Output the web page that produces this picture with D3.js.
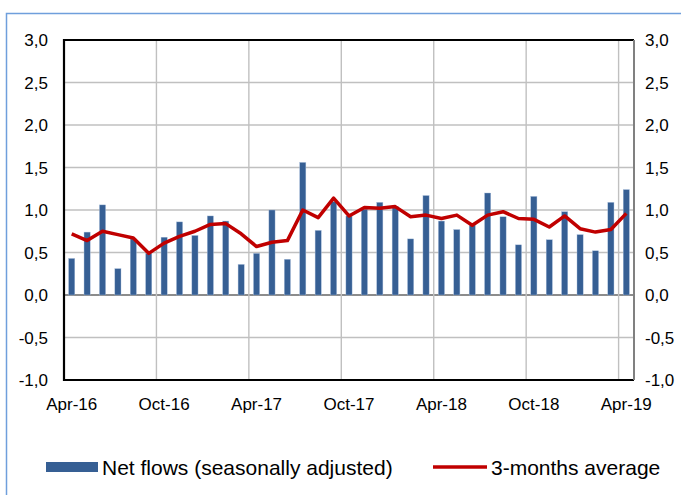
<!DOCTYPE html>
<html><head><meta charset="utf-8">
<script src="https://cdn.jsdelivr.net/npm/d3@7"></script>
<style>body{margin:0;background:#fff}svg{display:block}text{font-family:"Liberation Sans",Arial,sans-serif;fill:#000}</style>
</head><body><svg id="c" width="681" height="495"></svg>
<script>
const months = ["Apr-16","May-16","Jun-16","Jul-16","Aug-16","Sep-16","Oct-16","Nov-16","Dec-16","Jan-17","Feb-17","Mar-17",
"Apr-17","May-17","Jun-17","Jul-17","Aug-17","Sep-17","Oct-17","Nov-17","Dec-17","Jan-18","Feb-18","Mar-18",
"Apr-18","May-18","Jun-18","Jul-18","Aug-18","Sep-18","Oct-18","Nov-18","Dec-18","Jan-19","Feb-19","Mar-19","Apr-19"];
const netFlows = [0.43,0.74,1.06,0.31,0.66,0.49,0.68,0.86,0.70,0.93,0.87,0.36,
0.49,1.00,0.42,1.56,0.76,1.10,0.93,1.01,1.09,1.04,0.66,1.17,
0.87,0.77,0.82,1.20,0.92,0.59,1.16,0.65,0.98,0.71,0.52,1.09,1.24];
const avg3 = [0.72,0.64,0.75,0.71,0.67,0.49,0.61,0.69,0.75,0.83,0.84,0.72,
0.57,0.62,0.64,1.00,0.91,1.14,0.93,1.03,1.02,1.04,0.92,0.94,
0.90,0.94,0.82,0.94,0.98,0.90,0.89,0.80,0.93,0.78,0.74,0.77,0.96];
const tickLabels = ["Apr-16","Oct-16","Apr-17","Oct-17","Apr-18","Oct-18","Apr-19"];
const yTicks = [-1,-0.5,0,0.5,1,1.5,2,2.5,3];
const seriesNames = ["Net flows (seasonally adjusted)","3-months average"];

const svg = d3.select("#c");
const L=64, R=634, T=40, B=380;
const x = d3.scaleBand().domain(months).range([L,R]).paddingInner(0.6).paddingOuter(0.3);
const xb = d3.scaleBand().domain(months).range([L,R]);
const y = d3.scaleLinear().domain([-1,3]).range([B,T]);
const fmt = v => d3.format(".1f")(v).replace(".",",").replace("−","-");

svg.append("rect").attr("x",6.5).attr("y",13.5).attr("width",700).attr("height",520)
  .attr("fill","none").attr("stroke","#6f9fdc").attr("stroke-width",1.5);

svg.append("g").selectAll("line").data(yTicks.filter(d=>d>-1&&d<3)).join("line")
  .attr("x1",L).attr("x2",R).attr("y1",d=>y(d)).attr("y2",d=>y(d))
  .attr("stroke",d=>d===0?"#8c8c8c":"#c0c0c0").attr("stroke-width",d=>d===0?2.2:1.4);
svg.append("g").selectAll("line").data(tickLabels.slice(1)).join("line")
  .attr("x1",d=>xb(d)).attr("x2",d=>xb(d)).attr("y1",T).attr("y2",B)
  .attr("stroke","#c0c0c0").attr("stroke-width",1.4);

svg.append("g").selectAll("rect").data(netFlows).join("rect")
  .attr("x",(d,i)=>x(months[i])).attr("width",x.bandwidth())
  .attr("y",d=>y(Math.max(0,d))).attr("height",d=>Math.abs(y(d)-y(0)))
  .attr("fill","#365f94").attr("stroke","#a9bfdc").attr("stroke-width",0.4);

svg.append("path").datum(avg3)
  .attr("d",d3.line().x((d,i)=>x(months[i])+x.bandwidth()/2).y(d=>y(d)))
  .attr("fill","none").attr("stroke","#c00000").attr("stroke-width",3.5).attr("stroke-linejoin","round");

svg.append("line").attr("x1",L).attr("x2",R).attr("y1",T).attr("y2",T).attr("stroke","#000").attr("stroke-width",2);
svg.append("line").attr("x1",L).attr("x2",R).attr("y1",B).attr("y2",B).attr("stroke","#000").attr("stroke-width",2);
svg.append("line").attr("x1",R).attr("x2",R).attr("y1",T).attr("y2",B).attr("stroke","#808080").attr("stroke-width",2);
svg.append("line").attr("x1",L).attr("x2",L).attr("y1",T-1).attr("y2",B+1).attr("stroke","#000").attr("stroke-width",2.2);

const fs = 17;
svg.append("g").selectAll("text").data(yTicks).join("text")
  .attr("x",48).attr("y",d=>y(d)+6).attr("text-anchor","end").attr("font-size",fs).text(fmt);
svg.append("g").selectAll("text").data(yTicks).join("text")
  .attr("x",645).attr("y",d=>y(d)+6).attr("text-anchor","start").attr("font-size",fs).text(fmt);
svg.append("g").selectAll("text").data(tickLabels).join("text")
  .attr("x",d=>xb(d)+xb.bandwidth()/2).attr("y",410).attr("text-anchor","middle").attr("font-size",fs).text(d=>d);

const lg = svg.append("g");
lg.append("rect").attr("x",46).attr("y",462).attr("width",52).attr("height",10).attr("fill","#365f94");
lg.append("text").attr("x",102).attr("y",475).attr("font-size",21).text(seriesNames[0]);
lg.append("line").attr("x1",433).attr("x2",487).attr("y1",467).attr("y2",467).attr("stroke","#c00000").attr("stroke-width",3.5);
lg.append("text").attr("x",491).attr("y",475).attr("font-size",21).text(seriesNames[1]);
</script></body></html>
